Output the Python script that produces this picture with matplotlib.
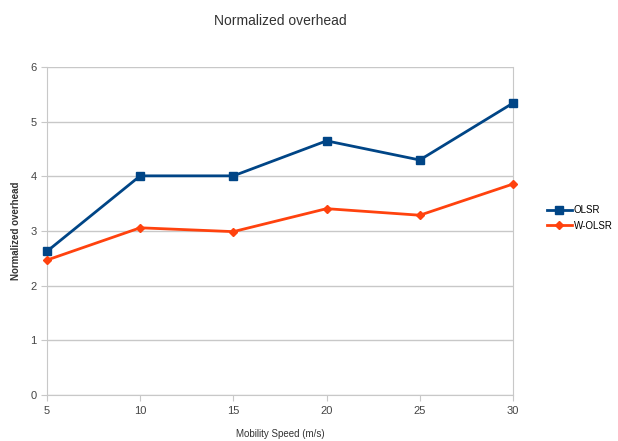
import matplotlib
matplotlib.use("Agg")
import matplotlib.pyplot as plt

# mobility speed (m/s) and normalized overhead per protocol
speeds = [5, 10, 15, 20, 25, 30]
olsr = [2.63, 4.01, 4.01, 4.65, 4.30, 5.34]
w_olsr = [2.47, 3.06, 2.99, 3.41, 3.29, 3.86]

plt.rcParams['font.family'] = ['Liberation Sans', 'DejaVu Sans']

fig = plt.figure(figsize=(6.18, 4.41), dpi=100)
ax = fig.add_axes([0.076, 0.104, 0.754, 0.744])

ax.plot(speeds, olsr, color="#004586", marker="s", markersize=6, linewidth=2,
        label="OLSR", clip_on=False, zorder=3)
ax.plot(speeds, w_olsr, color="#ff420e", marker="D", markersize=4.5, linewidth=2,
        label="W-OLSR", clip_on=False, zorder=3)

ax.set_xlim(5, 30)
ax.set_ylim(0, 6)
ax.set_xticks(speeds)
ax.set_yticks(range(0, 7))
ax.yaxis.grid(True, color="#c8c8c8", linewidth=1)
ax.set_axisbelow(True)
for side in ["left", "bottom", "right"]:
    ax.spines[side].set_color("#c8c8c8")
ax.spines["top"].set_visible(False)
ax.tick_params(colors="#c8c8c8", labelcolor="#444444", labelsize=8, length=4)

ax.set_title("Normalized overhead", fontsize=10, color="#333333", pad=30)
ax.set_xlabel("Mobility Speed (m/s)", fontsize=7, color="#333333", labelpad=10)
ax.set_ylabel("Normalized overhead", fontsize=7, fontweight="bold", color="#333333")
ax.yaxis.set_label_coords(-0.055, 0.5)

ax.legend(loc="center left", bbox_to_anchor=(1.055, 0.54), frameon=False, fontsize=7,
          handlelength=2.5, handletextpad=0.2, labelspacing=0.6)

fig.savefig("out.png", dpi=100)
